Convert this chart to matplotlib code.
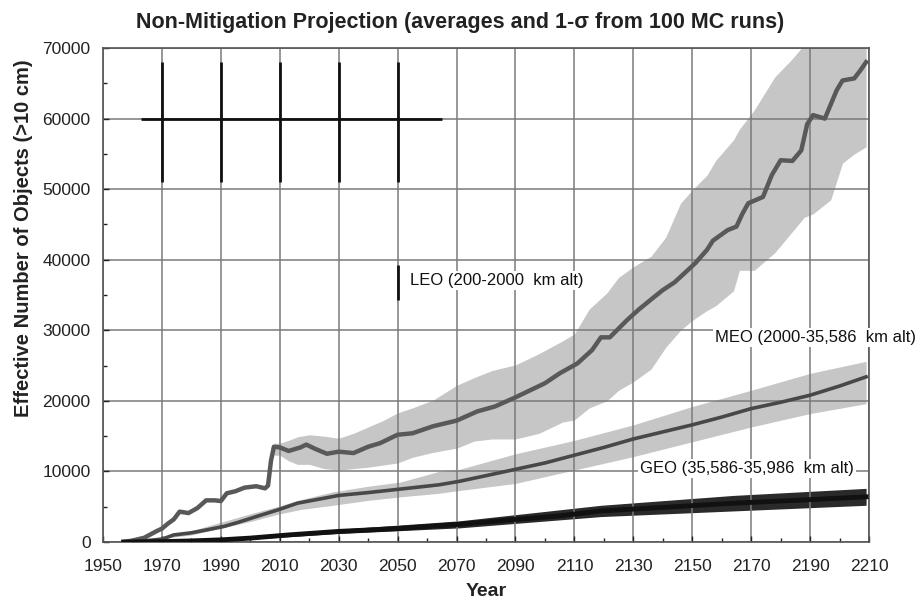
import matplotlib

matplotlib.use("Agg")
import matplotlib.pyplot as plt
from matplotlib.ticker import MultipleLocator

plt.rcParams["font.family"] = ["Liberation Sans", "DejaVu Sans"]

# ---- data ----
leo_years = [1957, 1960, 1964, 1968, 1970, 1972, 1974, 1976, 1979, 1982, 1985, 1988,
             1990, 1992, 1995, 1998, 2002, 2005, 2006, 2007, 2008, 2010, 2013, 2017,
             2019, 2022, 2026, 2030, 2035, 2040, 2044, 2050, 2055, 2062, 2070, 2077,
             2083, 2090, 2095, 2100, 2105, 2111, 2116, 2119, 2122, 2128, 2132, 2137,
             2140, 2144, 2151, 2155, 2157, 2162, 2165, 2167, 2169, 2174, 2177, 2180,
             2184, 2187, 2189, 2191, 2195, 2199, 2201, 2205, 2207, 2209]
leo_mean = [0, 200, 600, 1500, 1900, 2600, 3200, 4300, 4100, 4800, 5900, 5900,
            5800, 6900, 7200, 7700, 7900, 7600, 8000, 11500, 13500, 13400, 12900, 13400,
            13800, 13200, 12500, 12800, 12600, 13500, 14000, 15200, 15400, 16400, 17200, 18500,
            19200, 20500, 21500, 22500, 23900, 25300, 27200, 29000, 29000, 31500, 33000, 34700,
            35700, 36800, 39500, 41400, 42700, 44200, 44700, 46500, 48000, 48900, 52000, 54100,
            54000, 55500, 59200, 60500, 60000, 64000, 65400, 65700, 66800, 68000]

leo_band_years = [2008, 2010, 2013, 2016, 2020, 2025, 2030, 2035, 2040, 2045, 2050, 2055,
                  2062, 2070, 2076, 2082, 2090, 2098, 2106, 2110, 2115, 2121, 2125, 2130,
                  2136, 2141, 2146, 2150, 2155, 2158, 2164, 2166, 2171, 2178, 2184, 2188,
                  2191, 2197, 2201, 2205, 2209]
leo_lo = [12300, 12300, 11500, 11000, 11000, 10400, 10200, 10400, 10600, 10900, 11200, 12000,
          12700, 13300, 14300, 14600, 14600, 15400, 17000, 17300, 19000, 20000, 21500, 22700,
          24500, 27600, 30000, 31400, 32800, 33500, 35600, 38500, 38500, 41000, 44000, 46000,
          46500, 48500, 53700, 55000, 56000]
leo_hi = [14000, 14000, 14400, 14900, 15200, 15000, 14700, 15400, 16300, 17200, 18300, 19000,
          20100, 22200, 23300, 24300, 25100, 26700, 28500, 29500, 33000, 35300, 37500, 39000,
          40500, 43200, 48000, 49900, 52000, 54100, 57000, 58500, 61200, 65900, 68500, 70500,
          72000, 74000, 75000, 76000, 77000]

meo_years = [1960, 1965, 1970, 1974, 1980, 1985, 1991, 1996, 2002, 2009, 2016, 2025,
             2030, 2040, 2051, 2064, 2071, 2080, 2090, 2100, 2110, 2120, 2130, 2140,
             2150, 2160, 2170, 2180, 2190, 2200, 2209]
meo_mean = [0, 200, 400, 1000, 1300, 1700, 2200, 2800, 3600, 4500, 5500, 6200,
            6600, 7000, 7500, 8100, 8600, 9400, 10300, 11200, 12300, 13400, 14600, 15600,
            16600, 17700, 18900, 19800, 20800, 22100, 23400]
meo_band_years = [1960, 1980, 2000, 2009, 2017, 2028, 2040, 2051, 2064, 2071, 2090, 2110,
                  2130, 2150, 2170, 2190, 2209]
meo_lo = [0, 1000, 2900, 3900, 4600, 5200, 5900, 6400, 6900, 7300, 8300, 10200,
          12100, 14200, 16300, 18200, 19600]
meo_hi = [0, 1600, 4000, 5000, 6000, 7100, 7900, 8500, 10000, 10300, 12500, 14400,
          16600, 19200, 21500, 23900, 25600]

geo_years = [1957, 1970, 1980, 1990, 2000, 2013, 2030, 2050, 2071, 2090, 2105, 2119,
             2140, 2164, 2185, 2209]
geo_mean = [0, 50, 150, 300, 550, 1000, 1500, 1900, 2500, 3200, 3700, 4400,
            4900, 5500, 5900, 6400]
geo_band_years = [1957, 2000, 2030, 2071, 2119, 2164, 2209]
geo_lo = [0, 400, 1200, 2000, 3600, 4400, 5200]
geo_hi = [0, 700, 1800, 3000, 5200, 6600, 7600]

year_ticks = list(range(1950, 2211, 20))

# dark stray segments in the original figure
stray_x = [1970, 1990, 2010, 2030, 2050]
stray_y0, stray_y1 = 51000, 68000
stray_h_y, stray_h_x0, stray_h_x1 = 60000, 1963, 2065
leo_mark_x, leo_mark_y0, leo_mark_y1 = 2050, 34300, 39300

labels = [
    (2054.2, 37100, "LEO (200-2000  km alt)"),
    (2157.7, 29000, "MEO (2000-35,586  km alt)"),
    (2132.3, 10480, "GEO (35,586-35,986  km alt)"),
]

fig = plt.figure(figsize=(9.2, 6.02), dpi=100)
ax = fig.add_axes([0.112, 0.0997, 0.8326, 0.8205])

band_color = "#c6c6c6"
ax.fill_between(leo_band_years, leo_lo, leo_hi, color=band_color, lw=0, zorder=1)
ax.fill_between(meo_band_years, meo_lo, meo_hi, color=band_color, lw=0, zorder=1)
ax.fill_between(geo_band_years, geo_lo, geo_hi, color="#2a2a2a", lw=0, zorder=1.2)

ax.plot(leo_years, leo_mean, color="#595959", lw=3.2, zorder=3)
ax.plot(meo_years, meo_mean, color="#484848", lw=2.6, zorder=3)
ax.plot(geo_years, geo_mean, color="#111111", lw=3.5, zorder=3)

ax.vlines(stray_x, stray_y0, stray_y1, color="#111111", lw=2, zorder=2)
ax.hlines(stray_h_y, stray_h_x0, stray_h_x1, color="#111111", lw=2, zorder=2)
ax.vlines(leo_mark_x, leo_mark_y0, leo_mark_y1, color="#111111", lw=2, zorder=2)

for x, y, s in labels:
    ax.text(x, y, s, fontsize=12, va="center", ha="left", color="#111111", zorder=5,
            clip_on=False,
            bbox=dict(facecolor="white", edgecolor="none", pad=1.5))

ax.set_xlim(1950, 2210)
ax.set_ylim(0, 70000)
ax.set_xticks(year_ticks)
ax.xaxis.set_minor_locator(MultipleLocator(10))
ax.yaxis.set_major_locator(MultipleLocator(10000))
ax.yaxis.set_minor_locator(MultipleLocator(5000))
ax.set_axisbelow("line")
ax.grid(True, which="major", color="#7a7a7a", lw=1.1)
ax.tick_params(which="both", direction="in", labelsize=12.5, colors="#222222")
ax.tick_params(which="major", length=4, width=1)
ax.tick_params(which="minor", length=3, width=1)
ax.tick_params(axis="x", pad=12)
ax.tick_params(axis="y", pad=9)
for sp in ax.spines.values():
    sp.set_color("#555555")
    sp.set_linewidth(1.2)

fig.text(0.5, 0.962, "Non-Mitigation Projection (averages and 1-σ from 100 MC runs)",
         ha="center", va="center", fontsize=15.5, fontweight="bold", color="#222222")
fig.text(0.026, 1 - 238 / 602, "Effective Number of Objects (>10 cm)", rotation=90,
         ha="center", va="center", fontsize=14.5, fontweight="bold", color="#222222")
fig.text(0.529, 1 - 592 / 602, "Year", ha="center", va="center",
         fontsize=14, fontweight="bold", color="#222222")

fig.savefig("out.png", dpi=100)
